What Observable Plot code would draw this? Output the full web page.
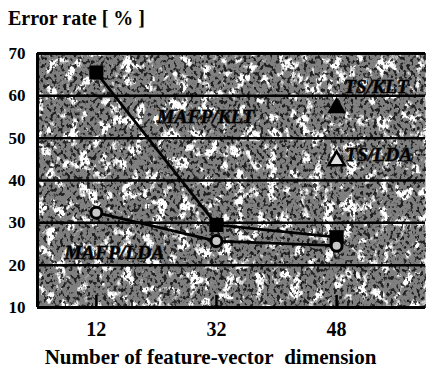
<!DOCTYPE html>
<html>
<head>
<meta charset="utf-8">
<script src="https://cdn.jsdelivr.net/npm/d3@7"></script>
<script src="https://cdn.jsdelivr.net/npm/@observablehq/plot@0.6"></script>
<style>
  html, body { margin: 0; padding: 0; background: #fff; }
  #wrap { position: relative; width: 427px; height: 374px; font-family: "Liberation Serif", serif; font-weight: bold; color: #000; }
  #title { position: absolute; left: 8px; top: 8px; font-size: 20px; line-height: 1; white-space: nowrap; }
  #xtitle { position: absolute; left: 0; width: 421px; top: 347px; text-align: center; font-size: 21px; line-height: 1; white-space: nowrap; }
  svg { position: absolute; left: 0; top: 0; }
</style>
</head>
<body>
<div id="wrap">
  <div id="chart"></div>
  <div id="title">Error rate [ % ]</div>
  <div id="xtitle">Number of feature-vector&nbsp; dimension</div>
</div>
<script>
// ---- data ----
const xLabels = ["12", "32", "48"];
const xIndex = [0, 1, 2];
const mafpKlt = [65.5, 29.5, 26.6];
const mafpLda = [32.4, 25.7, 24.6];
const tsKltIndex = [2];
const tsKlt = [57.2];
const tsLdaIndex = [2];
const tsLda = [44.7];
const yTicks = [10, 20, 30, 40, 50, 60, 70];
const gridValues = [20, 30, 40, 50, 60];
const borderValues = [10, 70];
const xDomain = [-0.49, 2.74];
const yDomain = [10, 70];
const labelText = ["MAFP/KLT", "MAFP/LDA", "TS/KLT", "TS/LDA"];
const labelX = [0.91, 0.15, 2.33, 2.35];
const labelY = [55.1, 23.0, 62.2, 46.1];

const klt = xIndex.map((i) => ({x: i, y: mafpKlt[i]}));
const lda = xIndex.map((i) => ({x: i, y: mafpLda[i]}));
const tsK = tsKltIndex.map((x, k) => ({x, y: tsKlt[k]}));
const tsL = tsLdaIndex.map((x, k) => ({x, y: tsLda[k]}));
const labels = labelText.map((t, k) => ({t, x: labelX[k], y: labelY[k]}));

const serif = "'Liberation Serif', serif";

const plot = Plot.plot({
  width: 427,
  height: 374,
  marginTop: 53,
  marginBottom: 67,
  marginLeft: 37,
  marginRight: 2,
  style: {fontFamily: serif, fontWeight: "bold", background: "transparent", overflow: "visible"},
  x: {type: "linear", domain: xDomain},
  y: {domain: yDomain},
  marks: [
    Plot.frame({fill: "url(#dither)"}),
    Plot.frame({fill: "white"}),
    Plot.frame({fill: "black"}),
    Plot.ruleY(gridValues, {stroke: "black", strokeWidth: 2.5}),
    Plot.ruleY(borderValues, {stroke: "black", strokeWidth: 3}),
    Plot.ruleX([xDomain[0]], {stroke: "black", strokeWidth: 3}),
    Plot.axisY({ticks: yTicks, tickSize: 0, tickPadding: 12, fontSize: 17, fontWeight: "bold", fontFamily: serif, label: null}),
    Plot.axisX({ticks: xIndex, tickSize: -12, strokeWidth: 2.5, text: null, label: null}),
    Plot.axisX({ticks: xIndex, tickSize: 0, tickPadding: 14, fontSize: 20, fontWeight: "bold", fontFamily: serif, tickFormat: (i) => xLabels[i], label: null}),
    Plot.line(klt, {x: "x", y: "y", stroke: "black", strokeWidth: 2.8}),
    Plot.line(lda, {x: "x", y: "y", stroke: "black", strokeWidth: 2.8}),
    Plot.dot(klt, {x: "x", y: "y", symbol: "square", r: 8, fill: "black", stroke: "none"}),
    Plot.dot(lda, {x: "x", y: "y", symbol: "circle", r: 5.5, fill: "#c8c8c8", stroke: "black", strokeWidth: 3}),
    Plot.dot(tsK, {x: "x", y: "y", symbol: "triangle", r: 7, fill: "black", stroke: "none"}),
    Plot.dot(tsL, {x: "x", y: "y", symbol: "triangle", r: 6, fill: "#e0e0e0", stroke: "black", strokeWidth: 2.5}),
    Plot.text(labels, {x: "x", y: "y", text: "t", fontSize: 19.5, fontStyle: "italic", fontWeight: "bold", fontFamily: serif, fill: "black", stroke: "#333", strokeOpacity: 0.7, strokeWidth: 1.3, paintOrder: "stroke"})
  ]
});

document.getElementById("chart").appendChild(plot);

// decorative scanned-paper texture for the plot frame
const svg = d3.select(plot);
const defs = svg.insert("defs", ":first-child");
const pat = defs.append("pattern").attr("id", "dither").attr("width", 2).attr("height", 2).attr("patternUnits", "userSpaceOnUse");
pat.append("rect").attr("width", 2).attr("height", 2).attr("fill", "#fff");
pat.append("rect").attr("width", 1).attr("height", 1).attr("fill", "#000");
pat.append("rect").attr("x", 1).attr("y", 1).attr("width", 1).attr("height", 1).attr("fill", "#000");

const f1 = defs.append("filter").attr("id", "blotch").attr("x", 0).attr("y", 0).attr("width", 1).attr("height", 1);
f1.append("feTurbulence").attr("type", "fractalNoise").attr("baseFrequency", "0.09 0.07").attr("numOctaves", 4).attr("seed", 11).attr("result", "n");
f1.append("feColorMatrix").attr("in", "n").attr("type", "matrix").attr("values", "0 0 0 0 1  0 0 0 0 1  0 0 0 0 1  9 0 0 0 -4.9");

const f2 = defs.append("filter").attr("id", "darken").attr("x", 0).attr("y", 0).attr("width", 1).attr("height", 1);
f2.append("feTurbulence").attr("type", "fractalNoise").attr("baseFrequency", "0.3 0.25").attr("numOctaves", 2).attr("seed", 21).attr("result", "n");
f2.append("feColorMatrix").attr("in", "n").attr("type", "matrix").attr("values", "0 0 0 0 0  0 0 0 0 0  0 0 0 0 0  8 0 0 0 -4.2");

const frames = plot.querySelectorAll('[aria-label="frame"]');
const rectOf = (el) => (el.tagName.toLowerCase() === "rect" ? el : el.querySelector("rect"));
if (frames[1]) rectOf(frames[1]).setAttribute("filter", "url(#blotch)");
if (frames[2]) { const r = rectOf(frames[2]); r.setAttribute("filter", "url(#darken)"); r.setAttribute("opacity", "0.75"); }
</script>
</body>
</html>
